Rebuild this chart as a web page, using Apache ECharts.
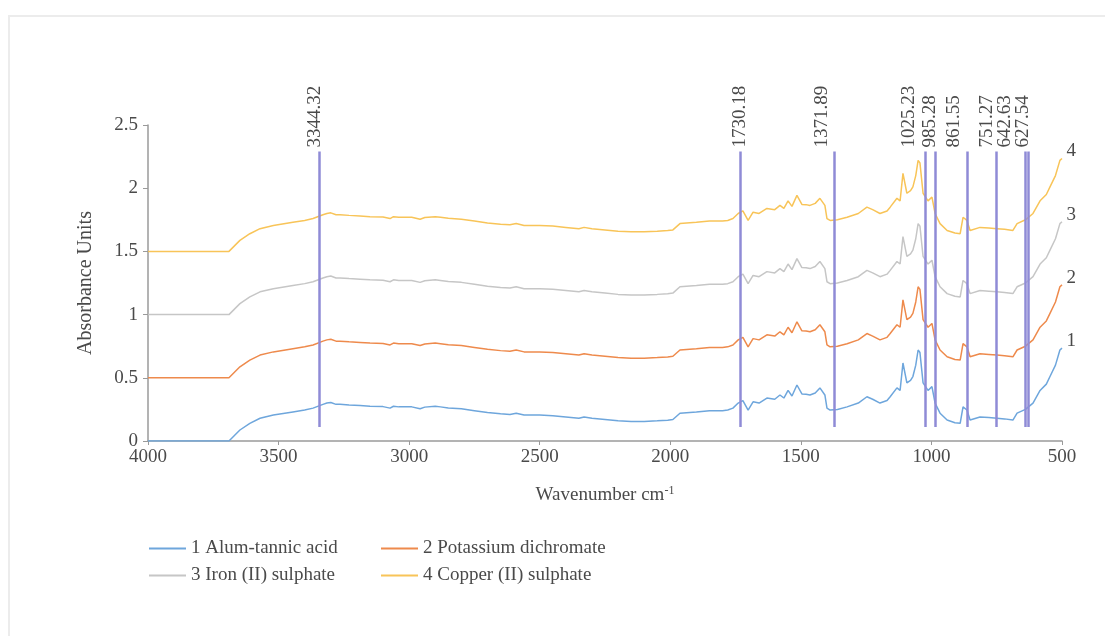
<!DOCTYPE html>
<html>
<head>
<meta charset="utf-8">
<script src="https://cdn.jsdelivr.net/npm/echarts@6/dist/echarts.min.js"></script>
<style>
  html, body { margin: 0; padding: 0; background: #ffffff; }
  #chart { width: 1105px; height: 636px; }
  #frame { position: absolute; left: 8px; top: 15px; width: 1110px; height: 640px;
           border-left: 2px solid #ececec; border-top: 2px solid #ececec; pointer-events: none; }
</style>
</head>
<body>
<div id="chart"></div>
<div id="frame"></div>
<script>
// FTIR spectra, wavenumber (cm-1) descending
const wavenumbers = [4000,3700,3690,3648,3610,3571,3520,3445,3400,3368,
  3330,3315,3300,3280,3265,3230,3188,3150,3100,3073,
  3060,3040,2990,2958,2940,2900,2880,2850,2800,2750,
  2700,2650,2614,2590,2560,2500,2450,2400,2350,2330,
  2300,2250,2200,2150,2100,2050,2010,1990,1963,1900,
  1850,1800,1780,1760,1740,1722,1702,1683,1660,1630,
  1600,1580,1565,1549,1534,1515,1496,1480,1465,1445,
  1427,1408,1400,1388,1360,1323,1280,1247,1225,1197,
  1170,1158,1132,1120,1109,1094,1080,1071,1060,1051,
  1044,1032,1013,998,986,967,940,910,890,879,
  872,864,852,814,780,749,720,688,672,640,
  611,584,560,546,525,508,500];

const alumTannic = [0,0,0,0.087,0.14,0.18,0.205,0.23,0.245,0.26,
  0.29,0.30,0.305,0.29,0.29,0.285,0.28,0.275,0.272,0.26,
  0.275,0.27,0.27,0.255,0.268,0.275,0.27,0.262,0.255,0.24,
  0.225,0.215,0.21,0.22,0.205,0.205,0.2,0.19,0.18,0.19,
  0.18,0.17,0.16,0.155,0.155,0.16,0.165,0.17,0.22,0.23,
  0.24,0.24,0.245,0.26,0.30,0.32,0.245,0.31,0.30,0.34,
  0.33,0.364,0.34,0.40,0.356,0.443,0.372,0.37,0.364,0.38,
  0.42,0.364,0.26,0.245,0.25,0.27,0.30,0.35,0.33,0.30,
  0.32,0.35,0.42,0.40,0.617,0.46,0.48,0.51,0.60,0.72,
  0.70,0.46,0.40,0.43,0.30,0.22,0.166,0.145,0.14,0.27,
  0.27,0.245,0.166,0.19,0.185,0.18,0.175,0.166,0.22,0.25,
  0.30,0.40,0.45,0.51,0.60,0.72,0.735];

const potassiumDichromate = [0.5,0.5,0.5,0.587,0.64,0.68,0.705,0.73,0.745,0.76,
  0.79,0.80,0.805,0.79,0.79,0.785,0.78,0.775,0.772,0.76,
  0.775,0.77,0.77,0.755,0.768,0.775,0.77,0.762,0.755,0.74,
  0.725,0.715,0.71,0.72,0.705,0.705,0.70,0.69,0.68,0.69,
  0.68,0.67,0.66,0.655,0.655,0.66,0.665,0.67,0.72,0.73,
  0.74,0.74,0.745,0.76,0.80,0.82,0.745,0.81,0.80,0.84,
  0.83,0.864,0.84,0.90,0.856,0.943,0.872,0.87,0.864,0.88,
  0.92,0.864,0.76,0.745,0.75,0.77,0.80,0.85,0.83,0.80,
  0.82,0.85,0.92,0.90,1.117,0.96,0.98,1.01,1.10,1.22,
  1.20,0.96,0.90,0.93,0.80,0.72,0.666,0.645,0.64,0.77,
  0.77,0.745,0.666,0.69,0.685,0.68,0.675,0.666,0.72,0.75,
  0.80,0.90,0.95,1.01,1.10,1.22,1.235];

const ironSulphate = [1,1,1,1.087,1.14,1.18,1.205,1.23,1.245,1.26,
  1.29,1.30,1.305,1.29,1.29,1.285,1.28,1.275,1.272,1.26,
  1.275,1.27,1.27,1.255,1.268,1.275,1.27,1.262,1.255,1.24,
  1.225,1.215,1.21,1.22,1.205,1.205,1.20,1.19,1.18,1.19,
  1.18,1.17,1.16,1.155,1.155,1.16,1.165,1.17,1.22,1.23,
  1.24,1.24,1.245,1.26,1.30,1.32,1.245,1.31,1.30,1.34,
  1.33,1.364,1.34,1.40,1.356,1.443,1.372,1.37,1.364,1.38,
  1.42,1.364,1.26,1.245,1.25,1.27,1.30,1.35,1.33,1.30,
  1.32,1.35,1.42,1.40,1.617,1.46,1.48,1.51,1.60,1.72,
  1.70,1.46,1.40,1.43,1.30,1.22,1.166,1.145,1.14,1.27,
  1.27,1.245,1.166,1.19,1.185,1.18,1.175,1.166,1.22,1.25,
  1.30,1.40,1.45,1.51,1.60,1.72,1.735];

const copperSulphate = [1.5,1.5,1.5,1.587,1.64,1.68,1.705,1.73,1.745,1.76,
  1.79,1.80,1.805,1.79,1.79,1.785,1.78,1.775,1.772,1.76,
  1.775,1.77,1.77,1.755,1.768,1.775,1.77,1.762,1.755,1.74,
  1.725,1.715,1.71,1.72,1.705,1.705,1.70,1.69,1.68,1.69,
  1.68,1.67,1.66,1.655,1.655,1.66,1.665,1.67,1.72,1.73,
  1.74,1.74,1.745,1.76,1.80,1.82,1.745,1.81,1.80,1.84,
  1.83,1.864,1.84,1.90,1.856,1.943,1.872,1.87,1.864,1.88,
  1.92,1.864,1.76,1.745,1.75,1.77,1.80,1.85,1.83,1.80,
  1.82,1.85,1.92,1.90,2.117,1.96,1.98,2.01,2.10,2.22,
  2.20,1.96,1.90,1.93,1.80,1.72,1.666,1.645,1.64,1.77,
  1.77,1.745,1.666,1.69,1.685,1.68,1.675,1.666,1.72,1.75,
  1.80,1.90,1.95,2.01,2.10,2.22,2.235];

const seriesNames = ['1 Alum-tannic acid', '2 Potassium dichromate', '3 Iron (II) sulphate', '4 Copper (II) sulphate'];
const seriesTags = ['1', '2', '3', '4'];
const seriesValues = [alumTannic, potassiumDichromate, ironSulphate, copperSulphate];

// Marked band positions (cm-1) and the vertical extent of the marker lines (absorbance)
const peakWavenumbers = [3344.32, 1730.18, 1371.89, 1025.23, 985.28, 861.55, 751.27, 642.63, 627.54];
const markerRange = [0.11, 2.29];

const xTicks = { min: 500, max: 4000, step: 500 };
const yTicks = { min: 0, max: 2.5, step: 0.5 };

const FONT = '"Liberation Serif", "Times New Roman", serif';
const TEXT = '#4a4a4a';
const colors = ['#6ea6dc', '#ee8a4c', '#c6c6c6', '#f8c458'];

// horizontal nudges (px) keeping the rotated band labels apart
const labelNudge = { '3344.32': -4, '1730.18': -1, '1371.89': -12, '1025.23': -16, '985.28': -5,
                     '861.55': -14, '751.27': -9, '642.63': -20, '627.54': -6 };

const chart = echarts.init(document.getElementById('chart'), null, { renderer: 'canvas' });

const series = seriesValues.map((vals, i) => ({
  name: seriesNames[i],
  type: 'line',
  data: wavenumbers.map((w, k) => [w, vals[k]]),
  showSymbol: false,
  symbol: 'none',
  lineStyle: { color: colors[i], width: 1.5 },
  itemStyle: { color: colors[i] },
  z: 2,
  endLabel: {
    show: true,
    formatter: seriesTags[i],
    fontFamily: FONT,
    fontSize: 19,
    color: TEXT,
    distance: 2,
    offset: [16, -7]
  },
  animation: false
}));

series.push({
  name: 'markers',
  type: 'line',
  data: [],
  z: 4,
  animation: false,
  markLine: {
    silent: true,
    symbol: ['none', 'none'],
    animation: false,
    label: { show: false },
    lineStyle: { color: '#8f8bd6', width: 2.5, type: 'solid' },
    emphasis: { disabled: true },
    data: peakWavenumbers.map(w => [{ coord: [w, markerRange[0]] }, { coord: [w, markerRange[1]] }])
  }
});

const legendCommon = {
  orient: 'vertical',
  icon: 'rect',
  itemWidth: 37,
  itemHeight: 2,
  itemGap: 8,
  selectedMode: false,
  textStyle: { fontFamily: FONT, fontSize: 19, color: TEXT }
};

chart.setOption({
  backgroundColor: '#ffffff',
  animation: false,
  grid: { left: 148, right: 43, top: 125, bottom: 195, containLabel: false },
  legend: [
    Object.assign({ left: 144, top: 534, data: [seriesNames[0], seriesNames[2]] }, legendCommon),
    Object.assign({ left: 376, top: 534, data: [seriesNames[1], seriesNames[3]] }, legendCommon)
  ],
  xAxis: {
    type: 'value',
    inverse: true,
    min: xTicks.min,
    max: xTicks.max,
    interval: xTicks.step,
    name: 'Wavenumber cm{sup|-1}',
    nameLocation: 'middle',
    nameGap: 44,
    nameTextStyle: {
      fontFamily: FONT, fontSize: 19, color: TEXT,
      rich: { sup: { fontFamily: FONT, fontSize: 12, color: TEXT, padding: [0, 0, 9, 0] } }
    },
    axisLine: { show: true, lineStyle: { color: '#9a9a9a', width: 1.5 } },
    axisTick: { show: true, length: 4, lineStyle: { color: '#9a9a9a' } },
    axisLabel: { fontFamily: FONT, fontSize: 19, color: TEXT, margin: 7, formatter: v => String(v) },
    splitLine: { show: false }
  },
  yAxis: {
    type: 'value',
    min: yTicks.min,
    max: yTicks.max,
    interval: yTicks.step,
    name: 'Absorbance Units',
    nameLocation: 'middle',
    nameGap: 52,
    nameTextStyle: { fontFamily: FONT, fontSize: 20, color: TEXT },
    axisLine: { show: true, lineStyle: { color: '#9a9a9a', width: 1.5 } },
    axisTick: { show: true, length: 5, lineStyle: { color: '#9a9a9a' } },
    axisLabel: { fontFamily: FONT, fontSize: 19, color: TEXT, margin: 10 },
    splitLine: { show: false }
  },
  series: series
});

// Rotated band labels above each marker line, placed through the axis scales
const graphics = peakWavenumbers.map(w => {
  const txt = w.toFixed(2);
  const p = chart.convertToPixel({ xAxisIndex: 0, yAxisIndex: 0 }, [w, markerRange[1]]);
  return {
    type: 'text',
    x: p[0] + (labelNudge[txt] || 0),
    y: p[1] - 4,
    rotation: Math.PI / 2,
    silent: true,
    style: {
      text: txt,
      font: '19px ' + FONT,
      fill: TEXT,
      align: 'left',
      verticalAlign: 'middle'
    }
  };
});
chart.setOption({ graphic: graphics });
</script>
</body>
</html>
